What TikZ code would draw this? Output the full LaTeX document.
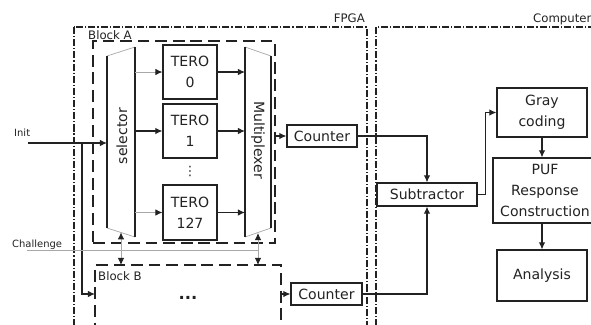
\documentclass[tikz,border=0pt]{standalone}
\usepackage{fontspec}
\setmainfont{DejaVu Sans}
\usetikzlibrary{arrows.meta,positioning,calc}
\definecolor{LineDark}{HTML}{222222}
\definecolor{WireGray}{HTML}{A8A8A8}

\begin{document}
\begin{tikzpicture}[
    x=0.3mm, y=-0.3mm,
    font=\fontsize{12}{18}\selectfont,
    box/.style={draw=LineDark, line width=1pt, align=center, inner sep=1pt, text=LineDark},
    hidden/.style={inner sep=0pt, outer sep=0pt},
    block/.style={draw=LineDark, line width=1pt, dash pattern=on 10pt off 5pt},
    frame/.style={draw=LineDark, line width=1pt, dash pattern=on 6pt off 1.7pt on 1pt off 1.7pt},
    arrow/.style={-{Latex[length=6pt,width=5.5pt]}, line width=0.9pt, draw=LineDark},
    wire/.style={-{Latex[length=6pt,width=5.5pt,color=LineDark]}, line width=0.7pt, draw=WireGray},
    both/.style={{Latex[length=6pt,width=5.5pt,color=LineDark]}-{Latex[length=6pt,width=5.5pt,color=LineDark]}, line width=0.7pt, draw=WireGray},
    tag/.style={text=LineDark, inner sep=0pt}
]
  \useasboundingbox (0,0) rectangle (591,324);
  \clip (0,0) rectangle (591,324);

  % -------------------------------------------------------------
  % FPGA / COMPUTER FRAMES
  % -------------------------------------------------------------
  \draw[frame] (74,27) rectangle (367,360);
  \draw[frame] (376,27) rectangle (640,360);
  \node[tag, font=\fontsize{10}{12}\selectfont, anchor=base east] (fpga) at (365,22) {FPGA};
  \node[tag, font=\fontsize{10}{12}\selectfont, anchor=base west] (comp) at (533,22) {Computer};

  % -------------------------------------------------------------
  % BLOCK A
  % -------------------------------------------------------------
  \node[block, hidden, minimum width=54.6mm, minimum height=60.6mm] (blockA) at (184,142) {};
  \node[tag, font=\fontsize{10}{12}\selectfont, anchor=base west] (labA) at (88,39) {Block A};

  % Selector
  \node[hidden, minimum width=8.4mm, minimum height=57mm] (sel) at (121,142) {};
  \draw[WireGray, line width=0.6pt] ([yshift=-2.7mm]sel.north west) -- (sel.north east);
  \draw[WireGray, line width=0.6pt] ([yshift=2.7mm]sel.south west) -- (sel.south east);
  \draw[LineDark, line width=1pt] ([yshift=-2.7mm]sel.north west) -- ([yshift=2.7mm]sel.south west);
  \draw[LineDark, line width=1pt] (sel.north east) -- (sel.south east);
  \node[tag, rotate=90] (seltxt) at (122,136) {selector};

  % TERO cells
  \node[box, minimum width=16.2mm, minimum height=16.2mm] (tero0) at (190,72) {TERO\\0};
  \node[box, minimum width=16.2mm, minimum height=16.2mm] (tero1) at (190,131) {TERO\\1};
  \node[box, minimum width=16.2mm, minimum height=16.5mm] (tero127) at (190,212.5) {TERO\\127};
  \node[tag, font=\fontsize{11}{12}\selectfont] (vdots) at (190,171) {⋮};

  % Multiplexer
  \node[hidden, minimum width=7.8mm, minimum height=57mm] (mux) at (258,142) {};
  \draw[WireGray, line width=0.6pt] (mux.north west) -- ([yshift=-2.7mm]mux.north east);
  \draw[WireGray, line width=0.6pt] (mux.south west) -- ([yshift=2.7mm]mux.south east);
  \draw[LineDark, line width=1pt] (mux.north west) -- (mux.south west);
  \draw[LineDark, line width=1pt] ([yshift=-2.7mm]mux.north east) -- ([yshift=2.7mm]mux.south east);
  \node[tag, rotate=-90] (muxtxt) at (258,140) {Multiplexer};

  \draw[wire] (tero0 -| sel.east) -- (tero0.west);
  \draw[arrow] (tero1 -| sel.east) -- (tero1.west);
  \draw[wire] (tero127 -| sel.east) -- (tero127.west);
  \draw[arrow] (tero0.east) -- (tero0 -| mux.west);
  \draw[arrow] (tero1.east) -- (tero1 -| mux.west);
  \draw[arrow] (tero127.east) -- (tero127 -| mux.west);

  % -------------------------------------------------------------
  % BLOCK B
  % -------------------------------------------------------------
  \node[block, hidden, minimum width=55.8mm, minimum height=24mm] (blockB) at (188,305) {};
  \node[tag, font=\fontsize{10}{12}\selectfont, anchor=north west] (labB) at (98,271) {Block B};
  \node[tag, font=\fontsize{14}{14}\selectfont\bfseries] (bdots) at (188,298) {...};

  % Counters
  \node[box, minimum width=21mm, minimum height=6.6mm] (countA) at (322,136) {Counter};
  \node[box, minimum width=21.3mm, minimum height=6.6mm] (countB) at (326.5,294) {Counter};
  \draw[arrow] (countA -| blockA.east) -- (countA.west);
  \draw[arrow] (countB -| blockB.east) -- (countB.west);

  % Inputs
  \coordinate (initin) at (28,143);
  \coordinate (initbr) at (82,143);
  \node[tag, font=\fontsize{8.5}{10}\selectfont, anchor=base west] (init) at (14,136) {Init};
  \draw[arrow] (initin) -- (initin -| sel.west);
  \draw[arrow] (initbr) |- (countB -| blockB.west);

  \coordinate (chin) at (27,250);
  \node[tag, font=\fontsize{8.5}{10}\selectfont, anchor=base west] (chal) at (12,247) {Challenge};
  \draw[WireGray, line width=0.7pt] (chin) -- (chin -| mux.south);
  \draw[both] ([yshift=1.4mm]sel.south) -- (sel.south |- blockB.north);
  \draw[both] ([yshift=1.2mm]mux.south) -- (mux.south |- blockB.north);

  % -------------------------------------------------------------
  % COMPUTER SIDE
  % -------------------------------------------------------------
  \node[box, minimum width=30mm, minimum height=6.9mm] (subtr) at (427,194.5) {Subtractor};
  \node[box, minimum width=27mm, minimum height=14.7mm] (gray) at (542,112.5) {Gray\\coding};
  \node[box, minimum width=31.2mm, minimum height=19.5mm] (puf) at (545,190.5) {PUF\\Response\\Construction};
  \node[box, minimum width=27mm, minimum height=15.3mm] (anal) at (542,275.5) {Analysis};

  \draw[arrow] (countA.east) -| (subtr.north);
  \draw[arrow] (countB.east) -| (subtr.south);
  \draw[arrow] (subtr.east) -- ++(8,0) |- (gray.west);
  \draw[arrow] (gray.south) -- (gray.south |- puf.north);
  \draw[arrow] (puf.south -| gray.south) -- (anal.north);

\end{tikzpicture}
\end{document}
